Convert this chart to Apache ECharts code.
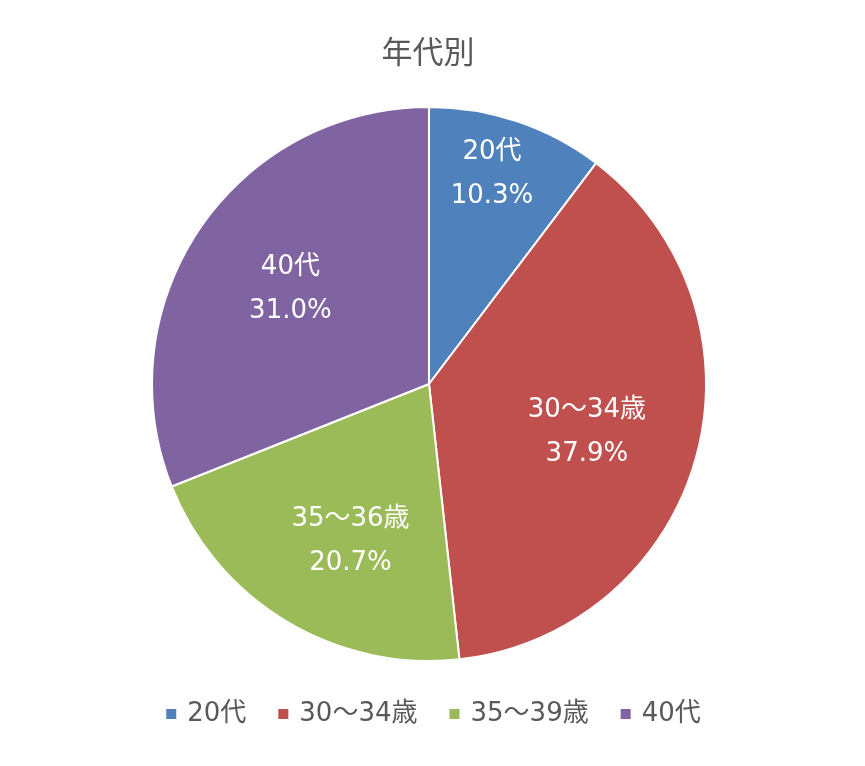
<!DOCTYPE html>
<html>
<head>
<meta charset="utf-8">
<script src="https://cdn.jsdelivr.net/npm/echarts@6/dist/echarts.min.js"></script>
<style>
  html, body { margin: 0; padding: 0; background: #fff; }
  #chartsDiv { width: 865px; height: 766px; }
</style>
</head>
<body>
<div id="chartsDiv"></div>
<script>
// 年代別の割合
const categories = ["20代", "30～34歳", "35～39歳", "40代"];
// スライス内のラベル（元の図のまま）
const sliceLabels = ["20代", "30～34歳", "35～36歳", "40代"];
const values = [10.3, 37.9, 20.7, 31.0];
const colors = ["#4F81BD", "#C0504D", "#9BBB59", "#8064A2"];

const R = 277;
// ラベル位置（半径比と角度の補正）
const labelFactor = [0.79, 0.582, 0.614, 0.601];
const labelAngleShift = [-2.1, 0.55, -4.1, 1.0];
const total = values.reduce((a, b) => a + b, 0);

function midAngle(i) {
  let acc = 0;
  for (let k = 0; k < i; k++) acc += values[k];
  return ((acc + values[i] / 2) / total) * Math.PI * 2;
}

const font = '"DejaVu Sans", "Noto Sans CJK JP", sans-serif';

let option = {
  color: colors,
  title: {
    text: "年代別",
    left: 423,
    top: 31,
    textAlign: "center",
    textStyle: {
      color: "#595959",
      fontSize: 31,
      fontWeight: "normal",
      fontFamily: '"Noto Sans CJK JP", sans-serif',
    },
  },
  legend: {
    data: categories,
    bottom: 34,
    left: "center",
    icon: "rect",
    itemWidth: 12,
    itemHeight: 12,
    itemGap: 30,
    textStyle: {
      color: "#595959",
      fontSize: 26,
      fontFamily: font,
      padding: [0, 0, 0, 5],
    },
  },
  series: [
    {
      type: "pie",
      center: [429, 384],
      radius: R,
      startAngle: 90,
      clockwise: true,
      silent: true,
      itemStyle: {
        borderColor: "#fff",
        borderWidth: 2,
      },
      label: {
        show: true,
        position: "inside",
        color: "#fff",
        fontSize: 26,
        lineHeight: 44,
        fontFamily: font,
        formatter: function (p) {
          return sliceLabels[p.dataIndex] + "\n" + p.value.toFixed(1) + "%";
        },
      },
      labelLayout: function (p) {
        const i = p.dataIndex;
        const a0 = midAngle(i);
        const a = a0 + (labelAngleShift[i] * Math.PI) / 180;
        const r0 = 0.5 * R;
        const r1 = labelFactor[i] * R;
        return {
          dx: r1 * Math.sin(a) - r0 * Math.sin(a0),
          dy: -r1 * Math.cos(a) + r0 * Math.cos(a0) + 3,
        };
      },
      data: categories.map((name, i) => ({ name: name, value: values[i] })),
    },
  ],
};

let Echarts = echarts.init(document.getElementById("chartsDiv"));
Echarts.setOption(option);
</script>
</body>
</html>
